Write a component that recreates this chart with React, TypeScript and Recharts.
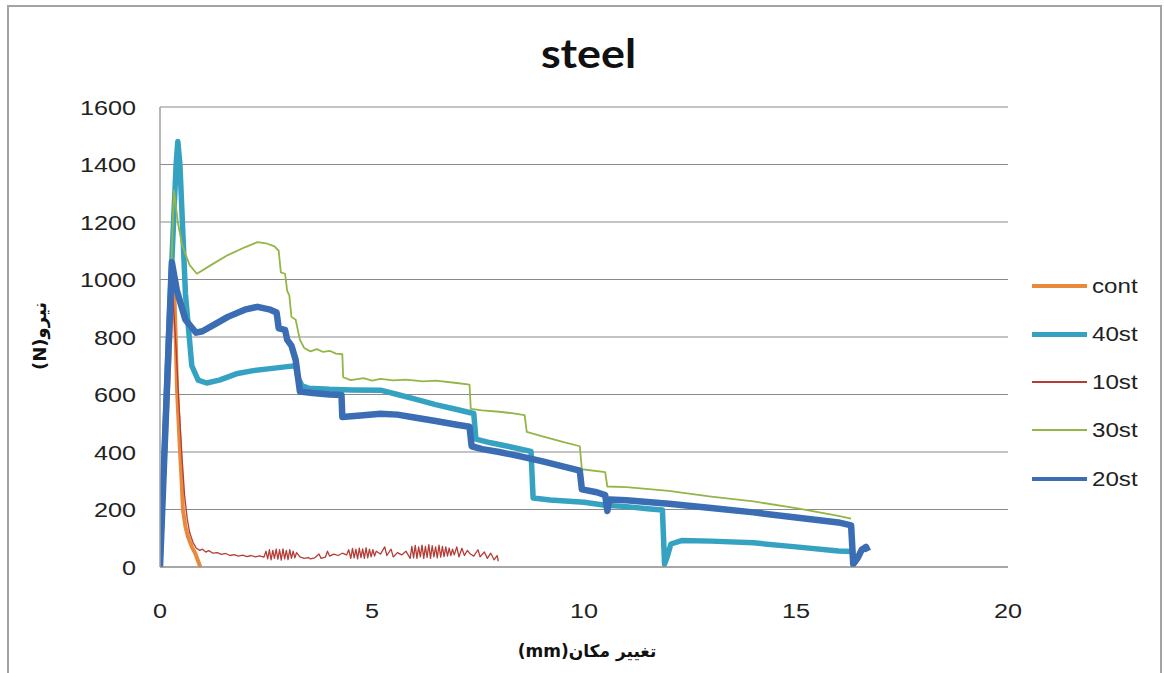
import React from 'react';
import { LineChart, Line, XAxis, YAxis, CartesianGrid } from 'recharts';

// displacement (mm) vs force (N)
const xTicks = [0, 5, 10, 15, 20];
const yTicks = [0, 200, 400, 600, 800, 1000, 1200, 1400, 1600];

const cont: [number, number][] = [
  [0, 0], [0.1, 320], [0.2, 650], [0.3, 980], [0.33, 1000], [0.37, 800], [0.4, 620],
  [0.44, 500], [0.47, 410], [0.51, 300], [0.54, 200], [0.6, 140], [0.66, 105],
  [0.75, 70], [0.83, 48], [0.9, 20], [0.95, 0],
];

const st40: [number, number][] = [
  [0, 0], [0.2, 800], [0.38, 1400], [0.42, 1480], [0.47, 1400], [0.6, 950], [0.75, 700],
  [0.9, 650], [1.1, 640], [1.4, 650], [1.8, 672], [2.2, 683], [2.6, 690], [3.0, 697],
  [3.2, 700], [3.25, 660], [3.35, 630], [3.5, 622], [4.0, 618], [4.5, 616], [5.2, 615],
  [5.6, 600], [6.0, 585], [6.5, 565], [7.0, 548], [7.4, 534], [7.45, 445], [7.8, 432],
  [8.2, 420], [8.75, 402], [8.8, 240], [9.2, 233], [10, 225], [10.5, 215], [11, 210],
  [11.5, 203], [11.85, 198], [11.9, 10], [11.95, 30], [12.05, 80], [12.3, 92], [13, 90],
  [14, 84], [15, 70], [16, 56], [16.3, 54],
];

const st10: [number, number][] = [
  [0, 0], [0.15, 480], [0.3, 950], [0.38, 760], [0.45, 560], [0.52, 380], [0.58, 250],
  [0.64, 170], [0.7, 120], [0.78, 85], [0.86, 65], [0.94, 58], [1.0, 62], [1.08, 52],
  [1.15, 57], [1.25, 48], [1.35, 50], [1.45, 44], [1.55, 47], [1.65, 40], [1.75, 43],
  [1.85, 38], [1.95, 41], [2.05, 36], [2.15, 40], [2.25, 35], [2.35, 39], [2.45, 34],
  [2.5, 55], [2.54, 28], [2.58, 60], [2.62, 25], [2.66, 58], [2.7, 30], [2.74, 62],
  [2.78, 27], [2.82, 60], [2.86, 24], [2.9, 63], [2.94, 28], [2.98, 58], [3.02, 26],
  [3.06, 60], [3.1, 30], [3.14, 55], [3.18, 32], [3.22, 50],
  [3.3, 35], [3.4, 30], [3.5, 33], [3.55, 28], [3.65, 32], [3.75, 45], [3.8, 30],
  [3.9, 34], [3.95, 55], [4.0, 38], [4.1, 45], [4.2, 40], [4.3, 48], [4.4, 42],
  [4.45, 60], [4.5, 30], [4.54, 65], [4.58, 32], [4.62, 62], [4.66, 28], [4.7, 66],
  [4.74, 33], [4.78, 63], [4.82, 30], [4.86, 67], [4.9, 32], [4.94, 62], [4.98, 35],
  [5.02, 60], [5.06, 38], [5.1, 55],
  [5.2, 45], [5.3, 70], [5.35, 40], [5.45, 62], [5.5, 35], [5.6, 50], [5.7, 42], [5.8, 55],
  [5.9, 30], [5.94, 72], [5.98, 32], [6.02, 75], [6.06, 30], [6.1, 70], [6.14, 35],
  [6.18, 76], [6.22, 30], [6.26, 72], [6.3, 33], [6.34, 78], [6.38, 30], [6.42, 74],
  [6.46, 35], [6.5, 70], [6.54, 32], [6.58, 76], [6.62, 34], [6.66, 72], [6.7, 36],
  [6.74, 70], [6.78, 38], [6.82, 66], [6.86, 40], [6.9, 62], [6.94, 42],
  [7.0, 70], [7.05, 35], [7.12, 65], [7.18, 40], [7.25, 58], [7.32, 45], [7.4, 38],
  [7.5, 60], [7.55, 35], [7.65, 52], [7.72, 30], [7.8, 48], [7.88, 25], [7.95, 40], [7.98, 20],
];

const st30: [number, number][] = [
  [0, 0], [0.2, 760], [0.33, 1310], [0.42, 1200], [0.52, 1120], [0.7, 1050], [0.87, 1020],
  [1.2, 1050], [1.6, 1085], [2.0, 1112], [2.3, 1130], [2.5, 1126], [2.7, 1115],
  [2.8, 1100], [2.85, 1025], [2.95, 1020], [3.0, 960], [3.05, 945], [3.1, 870],
  [3.2, 860], [3.3, 790], [3.4, 762], [3.55, 750], [3.7, 758], [3.85, 748], [4.0, 752],
  [4.15, 742], [4.3, 740], [4.32, 660], [4.5, 650], [4.8, 657], [5.0, 648], [5.2, 654],
  [5.5, 649], [5.8, 652], [6.2, 646], [6.5, 648], [7.0, 640], [7.3, 634], [7.33, 550],
  [7.6, 545], [8.0, 540], [8.3, 535], [8.6, 528], [8.65, 470], [9.0, 455], [9.5, 435],
  [9.9, 420], [9.95, 340], [10.5, 330], [10.55, 280], [11, 278], [12, 265], [13, 245],
  [14, 228], [15, 205], [16, 178], [16.3, 168],
];

const st20: [number, number][] = [
  [0, 0], [0.28, 1060], [0.4, 960], [0.6, 860], [0.85, 815], [1.0, 820], [1.3, 845],
  [1.6, 870], [2.0, 895], [2.3, 905], [2.6, 895], [2.75, 885], [2.8, 830], [2.95, 825],
  [3.0, 790], [3.1, 770], [3.2, 720], [3.3, 610], [3.6, 605], [4.0, 600], [4.28, 598],
  [4.3, 522], [4.8, 528], [5.2, 533], [5.6, 530], [6.0, 520], [6.5, 508], [7.0, 495],
  [7.3, 488], [7.35, 420], [7.6, 410], [8.0, 400], [8.5, 385], [9.0, 368], [9.5, 350],
  [9.9, 335], [9.95, 270], [10.3, 260], [10.5, 250], [10.55, 195], [10.6, 235],
  [11, 232], [12, 220], [13, 205], [14, 190], [15, 172], [16, 155], [16.3, 145],
  [16.35, 10], [16.45, 30], [16.55, 60], [16.65, 70], [16.7, 55],
];

const series = [
  { name: 'cont', color: '#e8893b', width: 4, legendWidth: 4, data: cont },
  { name: '40st', color: '#36a2c2', width: 5.5, legendWidth: 5, data: st40 },
  { name: '10st', color: '#b53c37', width: 1.3, legendWidth: 1.2, data: st10 },
  { name: '30st', color: '#93b646', width: 1.8, legendWidth: 1.2, data: st30 },
  { name: '20st', color: '#3a6db4', width: 6.5, legendWidth: 4.5, data: st20 },
];

const legendTop = [286, 334, 382, 430, 479];

const tickFont = '"Liberation Sans", Arial, sans-serif';

const YTick = (props: any) => {
  const { x, y, payload } = props;
  return (
    <g transform={`translate(${x},${y})`}>
      <text transform="scale(1.2,1)" textAnchor="end" dy="0.36em" fontFamily={tickFont} fontSize={21} fill="#222">
        {payload.value}
      </text>
    </g>
  );
};

const XTick = (props: any) => {
  const { x, y, payload } = props;
  return (
    <g transform={`translate(${x},${y})`}>
      <text transform="scale(1.2,1)" textAnchor="middle" dy="0.36em" fontFamily={tickFont} fontSize={21} fill="#222">
        {payload.value}
      </text>
    </g>
  );
};

export default function App() {
  return (
    <div style={{ position: 'absolute', left: 0, top: 0, width: 1165, height: 673, background: '#fff', overflow: 'hidden' }}>
      <div
        style={{
          position: 'absolute', left: 7, top: 5, width: 1155, height: 720,
          border: '2px solid #a3a3a3', boxSizing: 'border-box',
        }}
      />
      <div
        style={{
          position: 'absolute', left: 0, width: 1165, top: 28, textAlign: 'center',
          fontFamily: 'Lato, "Open Sans", sans-serif', fontWeight: 700, fontSize: 40,
          lineHeight: '50px', color: '#111',
        }}
      >
        <span style={{ display: 'inline-block', transform: 'scaleX(1.12)', marginLeft: 12 }}>steel</span>
      </div>

      <div style={{ position: 'absolute', left: 0, top: 0 }}>
        <LineChart width={1165} height={673} margin={{ top: 107, right: 157, bottom: 46, left: 0 }}>
          <CartesianGrid horizontal vertical={false} stroke="#8a8a8a" strokeWidth={1.2} />
          <XAxis
            type="number"
            dataKey="x"
            domain={[0, 20]}
            ticks={xTicks}
            interval={0}
            height={60}
            tickSize={0}
            tickMargin={43}
            axisLine={{ stroke: '#8a8a8a', strokeWidth: 1.2 }}
            tickLine={false}
            tick={<XTick />}
            allowDataOverflow
          />
          <YAxis
            type="number"
            dataKey="y"
            domain={[0, 1600]}
            ticks={yTicks}
            interval={0}
            width={160}
            tickSize={0}
            tickMargin={24}
            axisLine={{ stroke: '#a0a0a0', strokeWidth: 1.5 }}
            tickLine={false}
            tick={<YTick />}
            allowDataOverflow
          />
          {series.map((s) => (
            <Line
              key={s.name}
              name={s.name}
              data={s.data.map(([x, y]) => ({ x, y }))}
              dataKey="y"
              type="linear"
              stroke={s.color}
              strokeWidth={s.width}
              strokeLinejoin="round"
              dot={false}
              activeDot={false}
              isAnimationActive={false}
            />
          ))}
        </LineChart>
      </div>

      {series.map((s, i) => (
        <div key={s.name} style={{ position: 'absolute', left: 1032, top: legendTop[i] - 14, height: 28, display: 'flex', alignItems: 'center' }}>
          <div style={{ width: 55, height: s.legendWidth, background: s.color }} />
          <span
            style={{
              marginLeft: 5, fontFamily: tickFont, fontSize: 21, color: '#222',
              display: 'inline-block', transform: 'scaleX(1.15)', transformOrigin: 'left center',
            }}
          >
            {s.name}
          </span>
        </div>
      ))}

      <div
        dir="rtl"
        style={{
          position: 'absolute', left: 484, width: 206, top: 641, textAlign: 'center',
          fontFamily: '"DejaVu Sans", sans-serif', fontWeight: 700, fontSize: 17, color: '#111',
        }}
      >
        {'تغییر مکان\u2066(mm)\u2069'}
      </div>
      <div
        dir="rtl"
        style={{
          position: 'absolute', left: 40 - 60, top: 336 - 12, width: 120, height: 24, textAlign: 'center',
          transform: 'rotate(-90deg)', transformOrigin: 'center center',
          fontFamily: '"DejaVu Sans", sans-serif', fontWeight: 700, fontSize: 18, lineHeight: '24px', color: '#111',
        }}
      >
        {'نیرو\u2066(N)\u2069'}
      </div>
    </div>
  );
}
